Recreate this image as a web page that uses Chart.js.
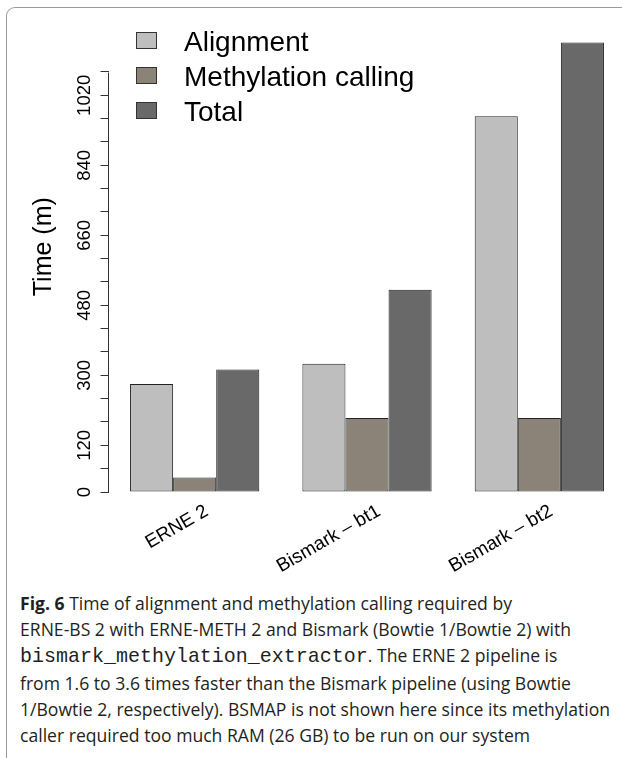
<!DOCTYPE html>
<html><head><meta charset="utf-8">
<script src="https://cdn.jsdelivr.net/npm/chart.js@4.4.1/dist/chart.umd.min.js"></script>
<style>
html,body{margin:0;padding:0;background:#fff;}
body{width:622px;height:758px;overflow:hidden;position:relative;font-family:'Liberation Sans',Arial,sans-serif;}
#frame{position:absolute;left:6px;top:7px;width:700px;height:800px;border-top:1.5px solid #9a9a9a;border-left:1.5px solid #9a9a9a;border-top-left-radius:9px;}
#wrap{position:absolute;left:0;top:0;width:640px;height:580px;}
#legend{position:absolute;left:0;top:0;width:0;height:0;}
.lg-box{position:absolute;width:21px;height:17px;box-sizing:border-box;border:1px solid #333;}
.lg-text{position:absolute;font-size:28px;line-height:35px;white-space:nowrap;color:#000;}
#caption{position:absolute;left:20px;top:590px;font-family:'Open Sans',sans-serif;font-size:18px;line-height:26px;color:#231f20;transform-origin:0 0;white-space:nowrap;}
#caption div{white-space:nowrap;}
#caption b{font-weight:700;}
#caption code{font-family:'Liberation Mono',monospace;}
</style></head>
<body>
<div id="frame"></div>
<div id="wrap"><canvas id="c" width="640" height="580"></canvas></div>
<div id="legend"></div>
<div id="caption">
<div><b>Fig. 6</b> Time of alignment and methylation calling required by</div>
<div>ERNE-BS 2 with ERNE-METH 2 and Bismark (Bowtie 1/Bowtie 2) with</div>
<div><code>bismark_methylation_extractor</code>. The ERNE 2 pipeline is</div>
<div>from 1.6 to 3.6 times faster than the Bismark pipeline (using Bowtie</div>
<div id="l5">1/Bowtie 2, respectively). BSMAP is not shown here since its methylation</div>
<div>caller required too much RAM (26 GB) to be run on our system</div>
</div>
<script>
// ---- data ----
const categories = ['ERNE 2', 'Bismark \u2013 bt1', 'Bismark \u2013 bt2'];
const seriesNames = ['Alignment', 'Methylation calling', 'Total'];
const alignment = [278, 330, 966];
const methylation = [37, 190, 190];
const total = [315, 520, 1156];
const yTickMarks = [0, 60, 120, 180, 240, 300, 360, 420, 480, 540, 600, 660, 720, 780, 840, 900, 960, 1020, 1080];
const yTickLabels = [0, 120, 300, 480, 660, 840, 1020];

// ---- styles ----
const palette = ['#bebebe', '#8b8378', '#696969'];
const FONT = "'Liberation Sans', Arial, sans-serif";
Chart.defaults.font.family = FONT;
Chart.defaults.color = '#000';

const seriesValues = [alignment, methylation, total];

const axisLine = {
  id: 'axisLine',
  afterDraw(chart) {
    const ys = chart.scales.y;
    const ctx = chart.ctx;
    const x = Math.floor(ys.right) + 0.5;
    ctx.save();
    ctx.strokeStyle = '#333';
    ctx.lineWidth = 1;
    ctx.beginPath();
    ctx.moveTo(x, ys.getPixelForValue(yTickMarks[0]) + 0.5);
    ctx.lineTo(x, ys.getPixelForValue(yTickMarks[yTickMarks.length - 1]) + 0.5);
    ctx.stroke();
    ctx.restore();
  }
};

const chart = new Chart(document.getElementById('c'), {
  type: 'bar',
  data: {
    labels: categories,
    datasets: seriesNames.map((name, i) => ({
      label: name,
      data: seriesValues[i],
      backgroundColor: palette[i],
      borderColor: '#222',
      borderWidth: 1,
      borderSkipped: false,
      categoryPercentage: 0.75,
      barPercentage: 1.0,
      clip: false
    }))
  },
  options: {
    responsive: false,
    animation: false,
    devicePixelRatio: 1,
    layout: { padding: { left: 0, top: 1.4, right: 14.5, bottom: 0 } },
    plugins: { legend: { display: false }, tooltip: { enabled: false } },
    scales: {
      x: {
        offset: true,
        grid: { display: false },
        border: { display: false },
        ticks: {
          minRotation: 30, maxRotation: 30, autoSkip: false,
          padding: 0, labelOffset: 12,
          font: { size: 19, family: FONT }, color: '#000'
        },
        afterFit(s) { s.height = 88; s.paddingLeft = 0; s.paddingRight = 0; }
      },
      y: {
        min: 0, max: 1261.5,
        afterBuildTicks(s) { s.ticks = yTickMarks.map(v => ({ value: v })); },
        ticks: {
          autoSkip: false, minRotation: 90, maxRotation: 90,
          crossAlign: 'center', padding: -5,
          font: { size: 18.5, family: FONT }, color: '#000',
          callback: v => (yTickLabels.includes(v) ? String(v) : '')
        },
        grid: { drawOnChartArea: false, drawTicks: true, tickLength: 8, color: '#333', lineWidth: 1 },
        border: { display: false },
        title: { display: true, text: 'Time (m)', color: '#000', font: { size: 25, family: FONT }, padding: { top: 29, bottom: 0 } },
        afterFit(s) { s.width = 108.5; s.paddingTop = 0; s.paddingBottom = 0; }
      }
    }
  },
  plugins: [axisLine]
});

// ---- legend built from the chart's datasets ----
const lg = document.getElementById('legend');
chart.data.datasets.forEach((ds, i) => {
  const b = document.createElement('div');
  b.className = 'lg-box';
  b.style.left = '136px';
  b.style.top = (31.7 + 35 * i) + 'px';
  b.style.background = ds.backgroundColor;
  lg.appendChild(b);
  const t = document.createElement('div');
  t.className = 'lg-text';
  t.style.left = '184px';
  t.style.top = (24.1 + 35 * i) + 'px';
  t.textContent = ds.label;
  lg.appendChild(t);
});

// ---- caption fitting ----
const cap = document.getElementById('caption');
const l5 = document.getElementById('l5');
const span = document.createElement('span');
span.innerHTML = l5.innerHTML; l5.innerHTML = ''; l5.appendChild(span);
const w = span.getBoundingClientRect().width;
const k = (610 - 20) / w;
cap.style.transform = 'scaleX(' + k + ')';
const code = cap.querySelector('code');
code.style.fontSize = (12.0 / 0.6 / k).toFixed(2) + 'px';
</script>
</body></html>
